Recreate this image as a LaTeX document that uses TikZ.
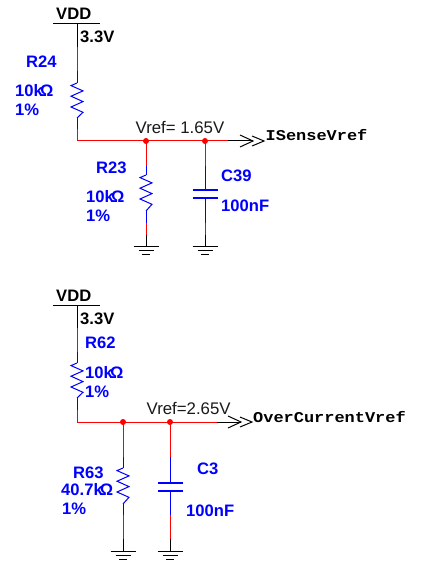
\documentclass[tikz,border=0pt]{standalone}
\usepackage{fontspec}
\setmainfont{Liberation Sans}
\newfontfamily\netfont[FakeStretch=1.13]{Liberation Mono}
\definecolor{wirered}{RGB}{255,0,0}
\definecolor{partblue}{RGB}{0,0,255}
\tikzset{
  redw/.style={draw=wirered,line width=1pt},
  bluew/.style={draw=partblue,line width=1pt},
  blackw/.style={draw=black,line width=1pt},
  capplate/.style={draw=partblue,line width=2pt},
  lab/.style={anchor=base west,inner sep=0pt,font=\fontsize{16.6}{18}\selectfont\bfseries},
  bluelab/.style={lab,text=partblue},
  blacklab/.style={lab,text=black},
  voltlab/.style={anchor=base west,inner sep=0pt,font=\fontsize{16.8}{18}\selectfont,text=black!90},
  netlab/.style={anchor=base west,inner sep=0pt,font=\fontsize{15}{18}\netfont\bfseries,text=black},
  pdot/.style={circle,fill=wirered,inner sep=0pt,minimum size=6pt}
}
% zig-zag between named coordinates: #1 start, #2 end; pitch is fixed
\newcommand{\zigzag}[2]{%
  \draw[bluew,line join=miter] (#1) -- ++(-6,2.6) -- ++(12,5.3) -- ++(-12,5.3) -- ++(12,5.4)
    -- ++(-12,5.4) -- ++(12,5.3) -- (#2);}
\newcommand{\gndsym}[3]{% x, y, name
  \coordinate (#3) at (#1,#2);
  \draw[blackw] (#3) ++(-12.5,0) -- ++(25,0);
  \draw[blackw] (#3) ++(-7.5,4.5) -- ++(15,0);
  \draw[blackw] (#3) ++(-4,8.5) -- ++(8,0);}
\newcommand{\chevrons}[1]{% tip of the first chevron
  \draw[blackw] (#1) ++(-13,-6) -- ++(13,6) -- ++(-13,6);
  \draw[blackw] (#1) ++(-1,-5) -- ++(12,5) -- ++(-12,5);}
\begin{document}
\begin{tikzpicture}[x=1pt,y=-1pt]
\useasboundingbox (0,0) rectangle (423,572);
\fill[white] (0,0) rectangle (423,572);
% ---- upper circuit
\coordinate (v1) at (77,24);
\draw[blackw] (53,24) -- (100,24);
\coordinate (r24a) at (77,47);
\coordinate (r24b) at (77,71);
\coordinate (r24c) at (77,83);
\coordinate (r24d) at (77,118);
\coordinate (r24e) at (77,129);
\coordinate (j1) at (77,141);
\coordinate (t1) at (146,141);
\coordinate (t2) at (205,141);
\coordinate (n1) at (228,141);
\coordinate (a1) at (253,141);
\draw[blackw] (v1) -- (r24a);
\draw[redw] (r24a) -- (r24b);
\draw[bluew] (r24b) -- (r24c);
\zigzag{r24c}{r24d}
\draw[bluew] (r24d) -- (r24e);
\draw[redw] (r24e) -- (j1) -- (n1);
\draw[blackw] (n1) -- (a1);
\chevrons{a1}
\node[pdot] (d1) at (t1) {};
\node[pdot] (d2) at (t2) {};
% R23
\coordinate (r23b) at (146,166);
\coordinate (r23c) at (146,175);
\coordinate (r23d) at (146,211);
\coordinate (r23e) at (146,223);
\coordinate (r23f) at (146,235);
\gndsym{146}{246}{g1}
\draw[redw] (t1) -- (r23b);
\draw[bluew] (r23b) -- (r23c);
\zigzag{r23c}{r23d}
\draw[bluew] (r23d) -- (r23e);
\draw[redw] (r23e) -- (r23f);
\draw[blackw] (r23f) -- (g1);
% C39
\coordinate (c39b) at (205,166);
\coordinate (c39c) at (205,190);
\coordinate (c39d) at (205,198);
\coordinate (c39e) at (205,223);
\coordinate (c39f) at (205,235);
\gndsym{205}{246}{g2}
\draw[redw] (t2) -- (c39b);
\draw[bluew] (c39b) -- (c39c);
\draw[capplate] (192.5,190) -- (218,190);
\draw[capplate] (192.5,198) -- (218,198);
\draw[bluew] (c39d) -- (c39e);
\draw[redw] (c39e) -- (c39f);
\draw[blackw] (c39f) -- (g2);
% labels
\node[blacklab] (l1) at (56,20) {VDD};
\node[blacklab] (l2) at (80,43) {3.3V};
\node[bluelab] (l3) at (26,68) {R24};
\node[bluelab] (l4) at (15,96.5) {10k$\!$Ω};
\node[bluelab] (l5) at (15,116) {1\%};
\node[voltlab] (l6) at (135.5,134) {Vref= 1.65V};
\node[netlab] (l7) at (265.5,141) {ISenseVref};
\node[bluelab] (l8) at (96,173) {R23};
\node[bluelab] (l9) at (86,202) {10k$\!$Ω};
\node[bluelab] (l10) at (86,221) {1\%};
\node[bluelab] (l11) at (221,182) {C39};
\node[bluelab] (l12) at (221,211) {100nF};
% ---- lower circuit
\coordinate (v2) at (77,305);
\draw[blackw] (53,305) -- (100,305);
\coordinate (r62a) at (77,328);
\coordinate (r62b) at (77,352);
\coordinate (r62c) at (77,363);
\coordinate (r62d) at (77,398);
\coordinate (r62e) at (77,410);
\coordinate (j2) at (77,422);
\coordinate (t3) at (123,422);
\coordinate (t4) at (170,422);
\coordinate (n2) at (217,422);
\coordinate (a2) at (241,422);
\draw[blackw] (v2) -- (r62a);
\draw[redw] (r62a) -- (r62b);
\draw[bluew] (r62b) -- (r62c);
\zigzag{r62c}{r62d}
\draw[bluew] (r62d) -- (r62e);
\draw[redw] (r62e) -- (j2) -- (n2);
\draw[blackw] (n2) -- (a2);
\chevrons{a2}
\node[pdot] (d3) at (t3) {};
\node[pdot] (d4) at (t4) {};
% R63
\coordinate (r63b) at (123,457);
\coordinate (r63c) at (123,468);
\coordinate (r63d) at (123,504);
\coordinate (r63e) at (123,515);
\coordinate (r63f) at (123,539);
\gndsym{123}{551}{g3}
\draw[redw] (t3) -- (r63b);
\draw[bluew] (r63b) -- (r63c);
\zigzag{r63c}{r63d}
\draw[bluew] (r63d) -- (r63e);
\draw[redw] (r63e) -- (r63f);
\draw[blackw] (r63f) -- (g3);
% C3
\coordinate (c3b) at (170,457);
\coordinate (c3c) at (170,483);
\coordinate (c3d) at (170,491);
\coordinate (c3e) at (170,515);
\coordinate (c3f) at (170,539);
\gndsym{170}{551}{g4}
\draw[redw] (t4) -- (c3b);
\draw[bluew] (c3b) -- (c3c);
\draw[capplate] (158,483) -- (183,483);
\draw[capplate] (158,491) -- (183,491);
\draw[bluew] (c3d) -- (c3e);
\draw[redw] (c3e) -- (c3f);
\draw[blackw] (c3f) -- (g4);
% labels
\node[blacklab] (m1) at (56,301) {VDD};
\node[blacklab] (m2) at (80,324) {3.3V};
\node[bluelab] (m3) at (85,348) {R62};
\node[bluelab] (m4) at (85,378) {10k$\!$Ω};
\node[bluelab] (m5) at (85,397) {1\%};
\node[voltlab] (m6) at (146.5,414) {Vref=2.65V};
\node[netlab] (m7) at (253,422) {OverCurrentVref};
\node[bluelab] (m8) at (73,478) {R63};
\node[bluelab] (m9) at (61,495) {40.7k$\!$Ω};
\node[bluelab] (m10) at (62,514) {1\%};
\node[bluelab] (m11) at (197,474) {C3};
\node[bluelab] (m12) at (186,516) {100nF};
\end{tikzpicture}
\end{document}
